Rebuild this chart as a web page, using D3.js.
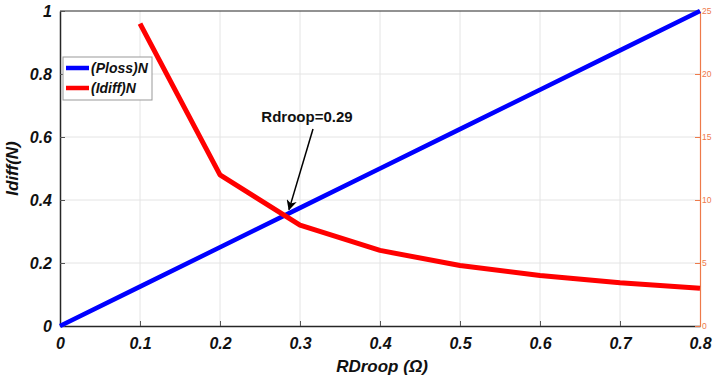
<!DOCTYPE html>
<html>
<head>
<meta charset="utf-8">
<script src="https://cdn.jsdelivr.net/npm/d3@7"></script>
<style>
  body { margin: 0; background: #fff; }
  text { font-family: "Liberation Sans", Arial, sans-serif; }
</style>
</head>
<body>
<div id="chart"></div>
<script>
// values
const rdroop = [0, 0.1, 0.2, 0.3, 0.4, 0.5, 0.6, 0.7, 0.8];
const plossN = [0, 0.125, 0.25, 0.375, 0.5, 0.625, 0.75, 0.875, 1];
const idiffX = [0.1, 0.2, 0.3, 0.4, 0.5, 0.6, 0.7, 0.8];
const idiffN = [0.96, 0.48, 0.32, 0.24, 0.192, 0.16, 0.137, 0.12];
const xTicks = [0, 0.1, 0.2, 0.3, 0.4, 0.5, 0.6, 0.7, 0.8];
const yTicks = [0, 0.2, 0.4, 0.6, 0.8, 1];
const y2Ticks = [0, 5, 10, 15, 20, 25];
const seriesNames = ["(Ploss)N", "(Idiff)N"];
const seriesColors = ["#0000ff", "#ff0000"];
const annotation = { label: "Rdroop=0.29", x: 0.285, y: 0.36 };

const W = 713, H = 385;
const margin = { top: 11, right: 13, bottom: 59, left: 60 };
const width = W - margin.left - margin.right,
  height = H - margin.top - margin.bottom;

const svg = d3.select("#chart")
  .append("svg")
  .attr("width", W)
  .attr("height", H)
  .append("g")
  .attr("transform", `translate(${margin.left},${margin.top})`);

const x = d3.scaleLinear().domain([0, 0.8]).range([0, width]);
const y = d3.scaleLinear().domain([0, 1]).range([height, 0]);
const y2 = d3.scaleLinear().domain([0, 25]).range([height, 0]);

// grid
svg.append("g")
  .selectAll("line")
  .data(xTicks.slice(1, -1))
  .enter()
  .append("line")
  .attr("x1", d => x(d)).attr("x2", d => x(d))
  .attr("y1", 0).attr("y2", height)
  .attr("stroke", "#e4e4e4").attr("stroke-width", 1);

svg.append("g")
  .selectAll("line")
  .data(yTicks.slice(1, -1))
  .enter()
  .append("line")
  .attr("x1", 0).attr("x2", width)
  .attr("y1", d => y(d)).attr("y2", d => y(d))
  .attr("stroke", "#e4e4e4").attr("stroke-width", 1);

// top border
svg.append("line")
  .attr("x1", 0).attr("x2", width).attr("y1", 0).attr("y2", 0)
  .attr("stroke", "#262626").attr("stroke-width", 1.2);

// axes
const xAxis = svg.append("g")
  .attr("transform", `translate(0,${height})`)
  .call(d3.axisBottom(x).tickValues(xTicks).tickSizeInner(-5).tickSizeOuter(0).tickPadding(12)
    .tickFormat(d => d === 0 ? "0" : d3.format(".1f")(d)));

const yAxis = svg.append("g")
  .call(d3.axisLeft(y).tickValues(yTicks).tickSizeInner(-5).tickSizeOuter(0).tickPadding(8)
    .tickFormat(d => (d === 0 || d === 1) ? String(d) : d3.format(".1f")(d)));

[xAxis, yAxis].forEach(g => {
  g.select(".domain").attr("stroke", "#262626").attr("stroke-width", 1.5);
  g.selectAll(".tick line").attr("stroke", "#555");
  g.selectAll(".tick text")
    .attr("fill", "#111")
    .style("font-size", "16px")
    .style("font-weight", "bold")
    .style("font-style", "italic");
});

const orange = "#ee7a4a";
const y2Axis = svg.append("g")
  .attr("transform", `translate(${width},0)`)
  .call(d3.axisRight(y2).tickValues(y2Ticks).tickSizeInner(-5).tickSizeOuter(0).tickPadding(2));
y2Axis.select(".domain").attr("stroke", orange).attr("stroke-width", 1.2);
y2Axis.selectAll(".tick line").attr("stroke", orange);
y2Axis.selectAll(".tick text").attr("fill", orange).style("font-size", "8.5px");

// series
const line = d3.line().x(d => x(d[0])).y(d => y(d[1]));

svg.append("path")
  .datum(rdroop.map((r, i) => [r, plossN[i]]))
  .attr("fill", "none")
  .attr("stroke", seriesColors[0])
  .attr("stroke-width", 4.5)
  .attr("d", line);

svg.append("path")
  .datum(idiffX.map((r, i) => [r, idiffN[i]]))
  .attr("fill", "none")
  .attr("stroke", seriesColors[1])
  .attr("stroke-width", 5)
  .attr("stroke-linejoin", "round")
  .attr("d", line);

// labels
svg.append("text")
  .attr("transform", `translate(${-42},${height / 2}) rotate(-90)`)
  .attr("text-anchor", "middle")
  .style("font-size", "17px")
  .style("font-weight", "bold")
  .style("font-style", "italic")
  .attr("fill", "#111")
  .text("Idiff(N)");

svg.append("text")
  .attr("x", x(0.4) + 2)
  .attr("y", height + 46)
  .attr("text-anchor", "middle")
  .style("font-size", "17px")
  .style("font-weight", "bold")
  .style("font-style", "italic")
  .attr("fill", "#111")
  .text("RDroop (Ω)");

// legend
const legend = svg.append("g").attr("transform", "translate(3,46)");
legend.append("rect")
  .attr("width", 89).attr("height", 43)
  .attr("fill", "#fff").attr("stroke", "#999").attr("stroke-width", 1);
seriesNames.forEach((name, i) => {
  const ly = 11 + i * 20;
  legend.append("line")
    .attr("x1", 3).attr("x2", 26).attr("y1", ly).attr("y2", ly)
    .attr("stroke", seriesColors[i]).attr("stroke-width", 4.5);
  legend.append("text")
    .attr("x", 28).attr("y", ly + 5)
    .style("font-size", "14px")
    .style("font-weight", "bold")
    .style("font-style", "italic")
    .attr("fill", "#111")
    .text(name);
});

// annotation arrow
const defs = svg.append("defs");
defs.append("marker")
  .attr("id", "arrow")
  .attr("viewBox", "0 0 10 10")
  .attr("refX", 9).attr("refY", 5)
  .attr("markerWidth", 7).attr("markerHeight", 7)
  .attr("orient", "auto")
  .append("path")
  .attr("d", "M0,0 L10,5 L0,10 L3,5 z")
  .attr("fill", "#000");

svg.append("text")
  .attr("x", x(annotation.x) + 19)
  .attr("y", 111)
  .attr("text-anchor", "middle")
  .style("font-size", "15px")
  .style("font-weight", "bold")
  .attr("fill", "#111")
  .text(annotation.label);

svg.append("line")
  .attr("x1", x(annotation.x) + 25).attr("y1", 118)
  .attr("x2", x(annotation.x) + 1).attr("y2", y(annotation.y) - 3)
  .attr("stroke", "#000").attr("stroke-width", 1.5)
  .attr("marker-end", "url(#arrow)");
</script>
</body>
</html>
